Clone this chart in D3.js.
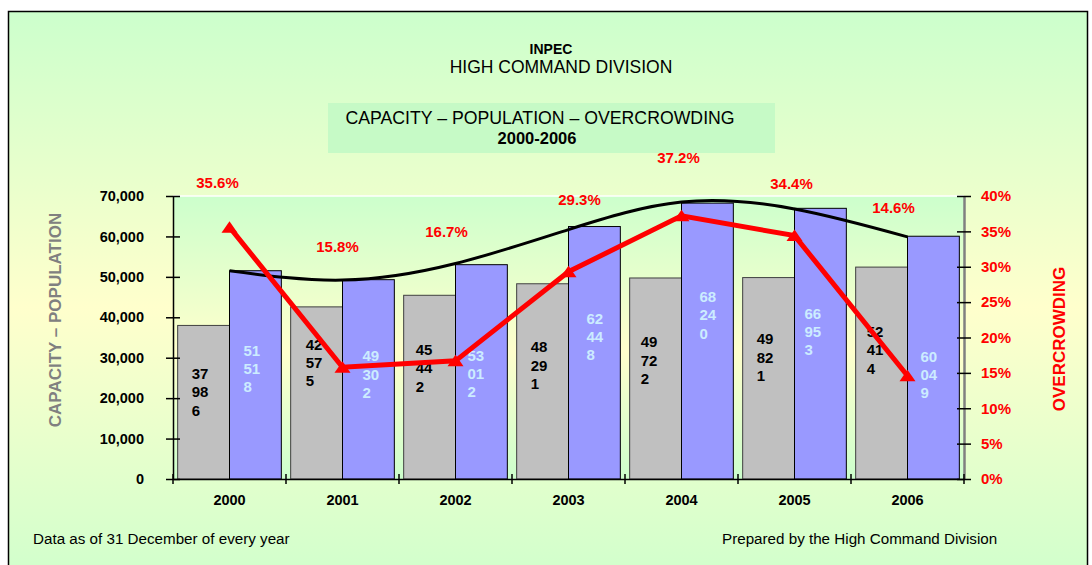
<!DOCTYPE html>
<html>
<head>
<meta charset="utf-8">
<script src="https://cdn.jsdelivr.net/npm/d3@7"></script>
<style>
  body { margin: 0; background: #fff; }
  svg { display: block; font-family: "Liberation Sans", Arial, sans-serif; }
</style>
</head>
<body>
<svg id="chart"></svg>
<script>
// Chart data
const years = ['2000', '2001', '2002', '2003', '2004', '2005', '2006'];
const capacity = [37986, 42575, 45442, 48291, 49722, 49821, 52414];
const population = [51518, 49302, 53012, 62448, 68240, 66953, 60049];
const overcrowding = [35.6, 15.8, 16.7, 29.3, 37.2, 34.4, 14.6];
// trend curve over population
const trend = [51500, 49200, 53300, 61700, 68500, 66800, 59900];
const yTicks = [0, 10000, 20000, 30000, 40000, 50000, 60000, 70000];
const pctTicks = [0, 5, 10, 15, 20, 25, 30, 35, 40];

// hand placed label nudges (pixels), as in the original sheet
const pctLabelDx = [-12, -5, -9, 11, -3, -3, -14];
const pctLabelDy = [-44, -120, -129, -72, -58, -52, -168];
const capLabelDx = [14, 15, 12, 14, 11, 14, 11];
const capLabelDy = [-10, -30, -19, -16, -18, -21, -23];
const popLabelDx = [14, 20, 12, 18, 18, 10, 13];
const popLabelDy = [-6, -5, 2, -16, -26, -12, 17];

const width = 1092;
const height = 565;
const marginLeft = 173;
const marginRight = 128;
const marginTop = 196;
const marginBottom = 86;

const svg = d3.select('#chart')
  .attr('width', width)
  .attr('height', height)
  .attr('viewBox', [0, 0, width, height]);

// Gradients
const defs = svg.append('defs');
function vGrad(id, mid) {
  const g = defs.append('linearGradient').attr('id', id)
    .attr('x1', 0).attr('y1', 0).attr('x2', 0).attr('y2', 1);
  g.append('stop').attr('offset', 0).attr('stop-color', '#ccffcc');
  g.append('stop').attr('offset', mid).attr('stop-color', '#ffffcc');
  g.append('stop').attr('offset', 1).attr('stop-color', '#ccffcc');
}
vGrad('bgGrad', 0.5);
vGrad('plotGrad', 0.55);

// Outer frame
svg.append('rect')
  .attr('x', 8.5).attr('y', 11.5)
  .attr('width', 1079).attr('height', 592)
  .attr('fill', 'url(#bgGrad)')
  .attr('stroke', '#000').attr('stroke-width', 1.5);

// Scales
const x0 = d3.scaleBand()
  .domain(years)
  .range([marginLeft, width - marginRight])
  .padding(0);

const x1 = d3.scaleBand()
  .domain(['capacity', 'population'])
  .range([0, x0.bandwidth()])
  .paddingInner(0)
  .paddingOuter(0.09);

const y = d3.scaleLinear()
  .domain([0, 70000])
  .range([height - marginBottom, marginTop]);

const yPct = d3.scaleLinear()
  .domain([0, 40])
  .range([height - marginBottom, marginTop]);

const cx = (i) => x0(years[i]) + x0.bandwidth() / 2;

// Plot area
svg.append('rect')
  .attr('x', marginLeft).attr('y', marginTop)
  .attr('width', width - marginRight - marginLeft)
  .attr('height', height - marginBottom - marginTop)
  .attr('fill', 'url(#plotGrad)');
svg.append('line')
  .attr('x1', marginLeft).attr('x2', width - marginRight)
  .attr('y1', marginTop).attr('y2', marginTop)
  .attr('stroke', '#fff').attr('stroke-width', 1.5);

// Titles
svg.append('text')
  .attr('x', 551).attr('y', 54)
  .attr('text-anchor', 'middle')
  .attr('font-size', 14).attr('font-weight', 'bold')
  .text('INPEC');
svg.append('text')
  .attr('x', 561).attr('y', 73)
  .attr('text-anchor', 'middle')
  .attr('font-size', 17.5)
  .text('HIGH COMMAND DIVISION');

svg.append('rect')
  .attr('x', 328).attr('y', 103)
  .attr('width', 447).attr('height', 50)
  .attr('fill', '#c6fac6');
svg.append('text')
  .attr('x', 540).attr('y', 124)
  .attr('text-anchor', 'middle')
  .attr('font-size', 17.7)
  .text('CAPACITY – POPULATION – OVERCROWDING');
svg.append('text')
  .attr('x', 537).attr('y', 144)
  .attr('text-anchor', 'middle')
  .attr('font-size', 16.5).attr('font-weight', 'bold')
  .text('2000-2006');

// Bars
const groups = svg.append('g')
  .selectAll('g')
  .data(years)
  .join('g')
  .attr('transform', (d) => `translate(${x0(d)},0)`);

groups.append('rect')
  .attr('x', x1('capacity'))
  .attr('y', (d, i) => y(capacity[i]))
  .attr('width', x1.bandwidth())
  .attr('height', (d, i) => y(0) - y(capacity[i]))
  .attr('fill', '#c0c0c0')
  .attr('stroke', '#404040').attr('stroke-width', 1);

groups.append('rect')
  .attr('x', x1('population'))
  .attr('y', (d, i) => y(population[i]))
  .attr('width', x1.bandwidth())
  .attr('height', (d, i) => y(0) - y(population[i]))
  .attr('fill', '#9999ff')
  .attr('stroke', '#000').attr('stroke-width', 1);

// Bar value labels, two digits per line
const lineH = 18.3;
function barLabel(values, key, dxs, dys, color) {
  groups.append('text')
    .attr('font-size', 15).attr('font-weight', 'bold')
    .attr('fill', color)
    .each(function (d, i) {
      const parts = String(values[i]).match(/.{1,2}/g);
      const mid = (y(values[i]) + y(0)) / 2 + dys[i];
      const tx = x1(key) + dxs[i];
      d3.select(this).selectAll('tspan')
        .data(parts)
        .join('tspan')
        .attr('x', tx)
        .attr('y', (p, j) => mid + (j - (parts.length - 1) / 2) * lineH)
        .attr('dy', '0.35em')
        .text((p) => p);
    });
}
barLabel(capacity, 'capacity', capLabelDx, capLabelDy, '#000');
barLabel(population, 'population', popLabelDx, popLabelDy, '#ccecff');

// Trend curve over population
svg.append('path')
  .datum(trend)
  .attr('fill', 'none')
  .attr('stroke', '#000')
  .attr('stroke-width', 3)
  .attr('d', d3.line()
    .x((d, i) => cx(i))
    .y((d) => y(d))
    .curve(d3.curveNatural));

// Overcrowding line
svg.append('path')
  .datum(overcrowding)
  .attr('fill', 'none')
  .attr('stroke', '#ff0000')
  .attr('stroke-width', 5)
  .attr('d', d3.line()
    .x((d, i) => cx(i))
    .y((d) => yPct(d)));

svg.append('g')
  .attr('fill', '#ff0000')
  .selectAll('path')
  .data(overcrowding)
  .join('path')
  .attr('transform', (d, i) => `translate(${cx(i)},${yPct(d)})`)
  .attr('d', 'M0,-6L8,5.5L-8,5.5Z');

svg.append('g')
  .attr('fill', '#ff0000')
  .attr('font-size', 15).attr('font-weight', 'bold')
  .attr('text-anchor', 'middle')
  .selectAll('text')
  .data(overcrowding)
  .join('text')
  .attr('x', (d, i) => cx(i) + pctLabelDx[i])
  .attr('y', (d, i) => yPct(d) + pctLabelDy[i])
  .attr('dy', '0.35em')
  .text((d) => d.toFixed(1) + '%');

// Left axis
svg.append('g')
  .attr('transform', `translate(${marginLeft},0)`)
  .call(d3.axisLeft(y).tickValues(yTicks).tickSizeInner(7).tickSizeOuter(0)
    .tickPadding(22).tickFormat(d3.format(',')))
  .call((g) => g.select('.domain').attr('stroke', '#000').attr('stroke-width', 1.5))
  .call((g) => g.selectAll('.tick line').attr('x1', -7).attr('x2', 7).attr('stroke-width', 1.5))
  .call((g) => g.selectAll('.tick text')
    .attr('font-size', 14.5).attr('font-weight', 'bold')
    .attr('font-family', '"Liberation Sans", Arial, sans-serif'));

// Right axis
svg.append('g')
  .attr('transform', `translate(${width - marginRight},0)`)
  .call(d3.axisRight(yPct).tickValues(pctTicks).tickSizeInner(7).tickSizeOuter(0)
    .tickPadding(10).tickFormat((d) => d + '%'))
  .call((g) => g.select('.domain').attr('stroke', '#808080').attr('stroke-width', 2.5))
  .call((g) => g.selectAll('.tick line').attr('x1', -7).attr('x2', 7).attr('stroke-width', 1.5))
  .call((g) => g.selectAll('.tick text')
    .attr('fill', '#ff0000')
    .attr('font-size', 15).attr('font-weight', 'bold')
    .attr('font-family', '"Liberation Sans", Arial, sans-serif'));

// Bottom axis: labels at centres, ticks at boundaries
svg.append('g')
  .attr('transform', `translate(0,${height - marginBottom})`)
  .call(d3.axisBottom(x0).tickSize(0).tickPadding(16))
  .call((g) => g.select('.domain').attr('stroke', '#000').attr('stroke-width', 1.5))
  .call((g) => g.selectAll('.tick text')
    .attr('font-size', 14.5).attr('font-weight', 'bold')
    .attr('font-family', '"Liberation Sans", Arial, sans-serif'))
  .call((g) => g.selectAll('.sep')
    .data(years.concat(['end']))
    .join('line')
    .attr('class', 'sep')
    .attr('x1', (d) => (d === 'end' ? x0.range()[1] : x0(d)))
    .attr('x2', (d) => (d === 'end' ? x0.range()[1] : x0(d)))
    .attr('y1', -5).attr('y2', 5)
    .attr('stroke', '#000').attr('stroke-width', 1.5));

// Axis titles
svg.append('text')
  .attr('transform', 'translate(55,320) rotate(-90)')
  .attr('text-anchor', 'middle').attr('dy', '0.35em')
  .attr('font-size', 17).attr('font-weight', 'bold')
  .attr('fill', '#808080')
  .text('CAPACITY – POPULATION');
svg.append('text')
  .attr('transform', 'translate(1059,339) rotate(-90)')
  .attr('text-anchor', 'middle').attr('dy', '0.35em')
  .attr('font-size', 17).attr('font-weight', 'bold')
  .attr('fill', '#ff0000')
  .text('OVERCROWDING');

// Footnotes
svg.append('text')
  .attr('x', 33).attr('y', 544)
  .attr('font-size', 15.2)
  .text('Data as of 31 December of every year');
svg.append('text')
  .attr('x', 722).attr('y', 544)
  .attr('font-size', 15.2)
  .text('Prepared by the High Command Division');
</script>
</body>
</html>
